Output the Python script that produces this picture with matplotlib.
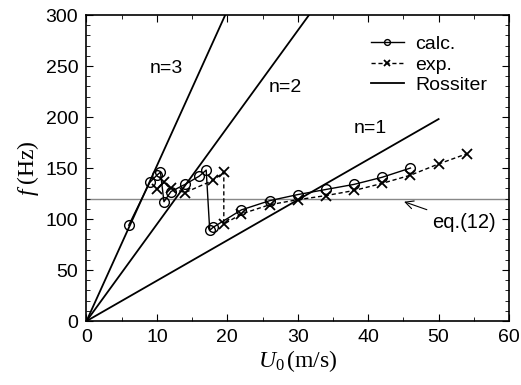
import matplotlib
matplotlib.use("Agg")
import matplotlib.pyplot as plt
import numpy as np

plt.rcParams['font.family'] = ['Liberation Sans', 'DejaVu Sans']
plt.rcParams['mathtext.fontset'] = 'custom'
plt.rcParams['mathtext.rm'] = 'Liberation Serif'
plt.rcParams['mathtext.it'] = 'Liberation Serif:italic'
plt.rcParams['mathtext.default'] = 'it'

# calc. (circles)
calc_u = [6, 9, 10, 10.5, 11, 12, 14, 16, 17, 17.5, 18, 22, 26, 30, 34, 38, 42, 46]
calc_f = [94, 136, 143, 146, 117, 127, 134, 142, 148, 89, 92, 109, 118, 124, 129, 134, 141, 150]

# exp. (crosses)
exp_u = [10, 11, 12, 14, 18, 19.5, 19.5, 22, 26, 30, 34, 38, 42, 46, 50, 54]
exp_f = [129, 136, 130, 126, 138, 146, 95, 105, 114, 119, 123, 128, 135, 143, 154, 164]

# Rossiter modes: end points of the lines from the origin
ross_n = ["n=1", "n=2", "n=3"]
ross_u_end = [50, 31.6, 19.7]
ross_f_end = [198, 300, 300]
ross_label_pos = [(40.3, 189), (28.3, 229), (11.4, 248)]

f_eq12 = 120

fig = plt.figure(figsize=(5.21, 3.85), dpi=100)
ax = fig.add_axes([0.166, 0.166, 0.811, 0.795])

ax.axhline(f_eq12, color='#888888', lw=1.0, zorder=1)

for n, ue, fe, pos in zip(ross_n, ross_u_end, ross_f_end, ross_label_pos):
    ax.plot([0, ue], [0, fe], color='black', lw=1.3, zorder=2)
    ax.text(pos[0], pos[1], n, fontsize=14, ha='center', va='center')

ax.plot(calc_u, calc_f, '-', color='black', lw=1.0, marker='o', ms=7,
        mfc='none', mec='black', mew=1.0, label='calc.', zorder=3)
ax.plot(exp_u, exp_f, '--', color='black', lw=1.0, marker='x', ms=7,
        mew=1.3, dashes=(3, 2), label='exp.', zorder=3)
ax.plot([], [], '-', color='black', lw=1.3, label='Rossiter')

ax.annotate('eq.(12)', xy=(45.1, 117), xytext=(49.1, 96.4),
            fontsize=14.5, va='center', ha='left',
            arrowprops=dict(arrowstyle='->', color='black', lw=0.8,
                            shrinkA=2, shrinkB=0))

leg = ax.legend(loc='upper right', bbox_to_anchor=(0.99, 0.99), frameon=False,
                fontsize=14, handlelength=1.7, handletextpad=0.6,
                labelspacing=0.15, markerscale=0.6)

ax.set_xlim(0, 60)
ax.set_ylim(0, 300)
ax.set_xticks(np.arange(0, 61, 10))
ax.set_yticks(np.arange(0, 301, 50))
ax.set_xticks(np.arange(0, 61, 5), minor=True)
ax.set_yticks(np.arange(0, 301, 10), minor=True)
ax.tick_params(which='both', direction='in', top=True, right=True, labelsize=14)
ax.tick_params(which='major', length=5, pad=6)
ax.tick_params(which='minor', length=3)
for s in ax.spines.values():
    s.set_linewidth(1.2)

ax.set_xlabel(r'$U_{0}\,\mathrm{(m/s)}$', fontsize=17, labelpad=1)
ax.set_ylabel(r'$f\;\mathrm{(Hz)}$', fontsize=17, labelpad=3)

fig.savefig('out.png', dpi=100)
